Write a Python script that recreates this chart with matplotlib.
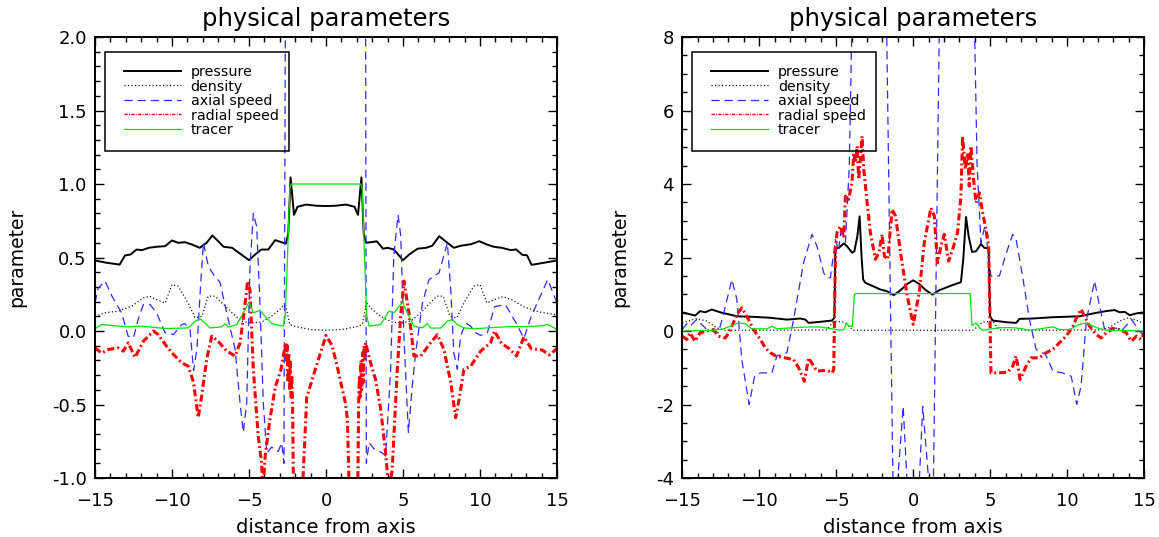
import matplotlib
matplotlib.use('Agg')
import matplotlib.pyplot as plt
from matplotlib.ticker import MultipleLocator, FormatStrFormatter
from matplotlib.patches import Rectangle

plt.rcParams['font.family'] = ['DejaVu Sans']
plt.rcParams['axes.unicode_minus'] = True

# ---------------- data : left panel ----------------
L_x_pressure = [-15, -14.3, -13.4, -13.05, -12.7, -12.3, -11.95, -11.5, -11.0, -10.45,
                -10.0, -9.6, -9.15, -8.7, -8.2, -7.75, -7.38, -7.0, -6.65, -6.1,
                -5.5, -5.0, -4.6, -4.2, -3.75, -3.3, -2.9, -2.6, -2.45, -2.3,
                -2.2, -2.08, -1.85, -1.3, -0.6, 0.0, 0.6, 1.3, 1.85, 2.08,
                2.2, 2.3, 2.45, 2.6, 2.9, 3.3, 3.7, 4.0, 4.4, 5.0,
                5.4, 5.95, 6.5, 6.9, 7.35, 7.75, 8.3, 8.75, 9.4, 9.95,
                10.4, 10.9, 11.45, 12.0, 12.35, 12.75, 13.05, 13.35, 14.2, 15.0]
L_y_pressure = [0.48, 0.465, 0.452, 0.514, 0.52, 0.554, 0.55, 0.566, 0.573, 0.577,
                0.616, 0.60, 0.604, 0.588, 0.566, 0.60, 0.65, 0.611, 0.573, 0.566,
                0.52, 0.482, 0.52, 0.554, 0.554, 0.618, 0.604, 0.595, 0.66, 1.045,
                0.93, 0.79, 0.845, 0.86, 0.852, 0.85, 0.852, 0.86, 0.845, 0.79,
                0.93, 1.045, 0.66, 0.60, 0.604, 0.61, 0.56, 0.566, 0.555, 0.482,
                0.52, 0.56, 0.566, 0.58, 0.645, 0.611, 0.566, 0.58, 0.59, 0.611,
                0.59, 0.573, 0.565, 0.55, 0.555, 0.518, 0.515, 0.45, 0.465, 0.48]

L_x_density = [-15, -14.35, -13.5, -12.6, -11.85, -11.45, -11.0, -10.45, -10.0, -9.6,
               -8.95, -8.5, -8.05, -7.65, -7.2, -6.75, -6.1, -5.5, -4.85, -4.2,
               -3.55, -3.0, -2.65, -2.35, -2.0, -1.0, 0.0, 1.0, 2.0, 2.35,
               2.65, 3.0, 3.55, 4.3, 4.9, 5.5, 6.15, 6.75, 7.2, 7.6,
               8.05, 8.5, 8.95, 9.6, 10.0, 10.45, 10.95, 11.5, 12.1, 12.85,
               13.8, 15.0]
L_y_density = [0.10, 0.124, 0.135, 0.17, 0.226, 0.237, 0.214, 0.19, 0.316, 0.305,
               0.19, 0.09, 0.10, 0.237, 0.237, 0.19, 0.124, 0.067, 0.055, 0.06,
               0.10, 0.146, 0.19, 0.044, 0.03, 0.01, 0.005, 0.01, 0.03, 0.044,
               0.19, 0.146, 0.10, 0.06, 0.055, 0.067, 0.124, 0.19, 0.237, 0.237,
               0.10, 0.09, 0.19, 0.305, 0.316, 0.19, 0.214, 0.234, 0.21, 0.165,
               0.13, 0.11]

L_x_axial = [-15, -14.8, -14.35, -13.9, -13.27, -12.85, -12.5, -12.2, -11.86, -11.43,
             -11.0, -10.45, -9.9, -9.37, -9.16, -8.83, -8.6, -8.38, -8.15, -7.96,
             -7.64, -7.31, -6.88, -6.45, -5.9, -5.58, -5.37, -5.15, -4.94, -4.72,
             -4.5, -4.29, -4.07, -3.85, -3.53, -3.1, -2.88, -2.73, -2.6, 0.0,
             2.55, 2.62, 2.8, 3.1, 3.66, 3.87, 4.2, 4.4, 4.68, 4.85,
             5.06, 5.35, 5.6, 5.82, 6.26, 6.69, 7.34, 7.88, 8.1, 8.3,
             8.53, 8.74, 9.07, 9.39, 9.72, 10.04, 10.48, 10.94, 11.65, 12.37,
             12.85, 13.33, 13.8, 14.4, 15.0]
L_y_axial = [0.19, 0.29, 0.34, 0.237, 0.124, -0.035, -0.046, 0.078, 0.18, 0.18,
             0.124, -0.012, -0.024, 0.044, 0.05, 0.01, -0.27, -0.12, 0.30, 0.6,
             0.44, 0.385, 0.33, 0.124, -0.126, -0.49, -0.69, -0.49, 0.42, 0.8,
             0.71, 0.19, -0.49, -0.83, -0.79, -0.82, -0.76, -0.9, 3.5, 3.5,
             3.5, -0.9, -0.76, -0.8, -0.83, -0.85, -0.26, 0.51, 0.79, 0.65,
             -0.035, -0.69, -0.375, -0.15, 0.19, 0.35, 0.396, 0.6, 0.28, -0.15,
             -0.26, -0.035, 0.055, 0.033, -0.012, -0.03, -0.012, 0.165, 0.18, 0.05,
             -0.05, 0.1, 0.21, 0.35, 0.19]

L_x_radial = [-15, -14.57, -14.13, -13.5, -13.16, -12.84, -12.4, -11.86, -11.2, -10.9,
              -10.35, -9.9, -9.37, -8.94, -8.6, -8.3, -8.07, -7.75, -7.42, -7.0,
              -6.45, -5.9, -5.58, -5.3, -5.09, -4.94, -4.72, -4.4, -4.18, -4.1,
              -3.95, -3.64, -3.29, -2.93, -2.62, -2.57, -2.52, -2.47, -2.42, -2.37,
              -2.32, -2.27, -2.22, -2.17, -2.1, -1.8, -1.49, -1.25, -0.78, -0.3,
              0.0, 0.4, 0.78, 1.26, 1.39, 1.49, 1.8, 2.05, 2.12, 2.17,
              2.22, 2.27, 2.32, 2.37, 2.42, 2.47, 2.52, 2.57, 2.62, 2.9,
              3.22, 3.55, 3.87, 4.1, 4.3, 4.63, 4.85, 5.06, 5.39, 5.71,
              6.15, 6.8, 7.23, 7.66, 8.1, 8.42, 8.64, 8.96, 9.39, 10.04,
              10.69, 10.94, 11.4, 11.9, 12.37, 12.85, 13.33, 14.05, 14.5, 15.0]
L_y_radial = [-0.115, -0.15, -0.126, -0.115, -0.137, -0.08, -0.18, -0.07, 0.0, -0.024,
              -0.104, -0.16, -0.216, -0.24, -0.35, -0.59, -0.44, -0.194, -0.035, -0.07,
              -0.137, -0.17, -0.08, 0.146, 0.34, 0.28, -0.26, -0.715, -0.9, -1.1,
              -0.85, -0.6, -0.38, -0.265, -0.08, -0.2, -0.1, -0.35, -0.15, -0.4,
              -0.2, -0.45, -0.3, -0.5, -1.2, -1.6, -1.0, -0.45, -0.29, -0.13,
              -0.03, -0.1, -0.265, -0.49, -0.6, -1.01, -1.6, -1.2, -0.5, -0.3,
              -0.45, -0.2, -0.4, -0.15, -0.35, -0.1, -0.2, -0.08, -0.1, -0.22,
              -0.33, -0.53, -0.83, -1.1, -0.94, -0.26, 0.1, 0.34, 0.12, -0.17,
              -0.17, -0.08, -0.025, -0.126, -0.35, -0.59, -0.466, -0.26, -0.24, -0.137,
              -0.08, 0.0, -0.084, -0.12, -0.17, -0.04, -0.12, -0.13, -0.163, -0.12]

L_x_tracer = [-15, -14.57, -13.9, -12.84, -12.2, -11.3, -10.45, -9.59, -8.94, -8.5,
              -8.18, -7.86, -7.53, -6.77, -6.56, -6.34, -5.8, -5.37, -5.0, -4.72,
              -4.29, -3.96, -3.53, -2.77, -2.65, -2.5, -2.35, -2.25, 2.25, 2.35,
              2.5, 2.65, 2.8, 3.55, 4.09, 4.42, 4.96, 5.39, 5.71, 6.26,
              6.58, 6.8, 7.45, 7.88, 8.2, 8.53, 8.96, 9.6, 10.9, 12.0,
              13.0, 14.0, 14.4, 15.0]
L_y_tracer = [0.015, 0.044, 0.037, 0.028, 0.033, 0.026, 0.017, 0.019, 0.021, 0.067,
              0.083, 0.055, 0.021, 0.028, 0.049, 0.026, 0.044, 0.124, 0.196, 0.124,
              0.14, 0.1, 0.05, 0.033, 0.1, 0.5, 0.97, 1.0, 1.0, 0.97,
              0.5, 0.1, 0.033, 0.044, 0.135, 0.124, 0.196, 0.1, 0.033, 0.021,
              0.05, 0.02, 0.02, 0.067, 0.078, 0.044, 0.021, 0.015, 0.024, 0.03,
              0.03, 0.035, 0.045, 0.01]

# ---------------- data : right panel ----------------
R_x_pressure = [-15, -14.16, -13.84, -13.5, -13.08, -12.54, -11.45, -10.37, -9.28, -8.2,
                -7.33, -7.0, -6.79, -6.03, -5.27, -5.12, -5.05, -4.84, -4.51, -4.3,
                -3.97, -3.82, -3.62, -3.48, -3.35, -3.25, -3.1, -2.13, -1.69, -1.26,
                -0.82, -0.39, 0.0, 0.39, 0.82, 1.26, 1.69, 2.56, 3.1, 3.25,
                3.43, 3.6, 3.82, 4.08, 4.4, 4.62, 4.9, 4.99, 5.16, 6.03,
                6.68, 6.9, 7.77, 9.07, 10.8, 11.9, 12.5, 13.08, 13.4, 13.73,
                14.06, 14.5, 15.0]
R_y_pressure = [0.51, 0.42, 0.54, 0.51, 0.585, 0.51, 0.40, 0.385, 0.36, 0.31,
                0.34, 0.31, 0.22, 0.25, 0.285, 0.36, 2.26, 2.26, 2.38, 2.31,
                2.13, 2.17, 2.6, 3.12, 2.0, 1.4, 1.31, 1.13, 1.08, 0.975,
                1.11, 1.28, 1.38, 1.28, 1.11, 0.99, 1.11, 1.25, 1.33, 1.95,
                3.1, 2.58, 2.15, 2.17, 2.37, 2.26, 2.26, 0.40, 0.285, 0.24,
                0.22, 0.33, 0.34, 0.375, 0.40, 0.495, 0.54, 0.57, 0.51, 0.52,
                0.43, 0.48, 0.51]

R_x_density = [-15, -14.06, -13.4, -12.75, -12.3, -9.0, -5.6, -5.16, -4.5, -4.08,
               -3.86, 0.0, 3.86, 4.08, 4.5, 5.16, 5.6, 9.0, 12.3, 12.75,
               13.4, 13.95, 14.4, 15.0]
R_y_density = [0.22, 0.34, 0.27, 0.086, 0.02, 0.02, 0.03, 0.27, 0.24, 0.086,
               0.02, 0.02, 0.02, 0.086, 0.24, 0.27, 0.03, 0.02, 0.03, 0.1,
               0.27, 0.36, 0.31, 0.2]

R_x_axial = [-15, -14.7, -14.5, -14.06, -13.4, -12.65, -12.3, -11.78, -11.45, -11.13,
             -10.65, -10.3, -9.93, -9.18, -8.85, -8.2, -7.77, -7.12, -6.57, -6.25,
             -5.81, -5.6, -5.38, -5.05, -4.85, -4.65, -4.4, -4.15, -3.95, -1.75,
             -1.3, -1.05, -0.65, -0.35, 0.0, 0.35, 0.62, 1.05, 1.3, 1.72,
             3.95, 4.15, 4.4, 4.65, 4.85, 5.05, 5.6, 6.03, 6.46, 6.68,
             7.1, 7.55, 7.98, 8.6, 9.07, 9.7, 10.26, 10.62, 10.9, 11.25,
             11.78, 12.1, 12.43, 12.97, 13.6, 14.2, 14.6, 15.0]
R_y_axial = [0.04, 0.2, 0.13, 0.31, 0.04, -0.05, 0.49, 1.4, 0.86, -0.78,
             -2.0, -1.23, -1.14, -1.14, -0.68, -0.59, 0.31, 1.86, 2.63, 2.31,
             1.58, 1.45, 1.45, 2.49, 2.2, 2.85, 2.4, 4.5, 9.0, 9.0,
             -4.5, -4.3, -2.05, -4.5, -5.0, -4.5, -2.05, -4.3, -4.5, 9.0,
             9.0, 4.5, 2.4, 2.85, 2.2, 1.49, 1.5, 2.1, 2.63, 2.5,
             1.5, 0.31, -0.5, -0.64, -1.09, -1.14, -1.23, -2.0, -1.5, 0.31,
             1.36, 0.68, 0.04, 0.09, 0.04, 0.31, 0.04, -0.14]

R_x_radial = [-15, -14.7, -14.5, -14.16, -13.84, -13.4, -12.97, -12.65, -12.2, -11.9,
              -11.45, -11.13, -10.8, -10.37, -9.93, -9.6, -9.28, -8.85, -8.63, -8.2,
              -7.77, -7.44, -7.07, -6.79, -6.46, -6.25, -5.6, -5.27, -5.16, -5.05,
              -4.95, -4.73, -4.51, -4.4, -4.19, -3.97, -3.86, -3.75, -3.64, -3.54,
              -3.43, -3.32, -3.21, -2.99, -2.78, -2.45, -2.23, -2.02, -1.87, -1.65,
              -1.37, -1.15, -0.82, -0.39, 0.0, 0.39, 0.72, 1.15, 1.37, 1.58,
              1.8, 2.02, 2.3, 2.56, 2.88, 3.1, 3.21, 3.38, 3.54, 3.64,
              3.75, 3.9, 4.08, 4.3, 4.51, 4.73, 4.9, 5.05, 5.49, 6.14,
              6.46, 6.68, 6.94, 7.33, 7.66, 8.2, 8.63, 9.07, 9.5, 9.93,
              10.37, 10.7, 10.9, 11.13, 11.45, 11.9, 12.2, 12.54, 12.97, 13.4,
              13.84, 14.16, 14.5, 14.8, 15.0]
R_y_radial = [-0.14, -0.23, -0.05, -0.28, -0.05, 0.0, 0.04, -0.14, -0.19, 0.0,
              0.45, 0.63, 0.4, 0.04, -0.23, -0.46, -0.59, -0.7, -0.7, -0.74,
              -0.78, -1.0, -1.37, -0.73, -0.96, -1.09, -1.07, -1.14, -1.05, 2.13,
              2.67, 2.85, 2.54, 3.67, 3.58, 4.08, 4.85, 4.58, 5.03, 4.12,
              4.67, 5.3, 4.4, 3.49, 2.67, 1.95, 2.13, 2.63, 2.04, 1.95,
              3.31, 3.13, 2.13, 0.95, 0.18, 1.04, 2.4, 3.35, 3.13, 1.85,
              2.31, 2.63, 1.9, 2.22, 2.67, 3.67, 5.3, 4.4, 4.85, 3.94,
              5.03, 4.2, 3.49, 3.76, 3.22, 2.76, 2.31, -1.14, -1.14, -1.12,
              -0.96, -0.68, -1.32, -0.96, -0.73, -0.73, -0.59, -0.5, -0.32, -0.14,
              0.13, 0.45, 0.59, 0.4, 0.13, -0.1, -0.19, -0.05, 0.06, 0.04,
              -0.05, -0.28, -0.14, -0.23, -0.05]

R_x_tracer = [-15, -12.97, -12.3, -11.9, -11.35, -10.9, -10.48, -9.5, -9.18, -8.85,
              -7.77, -6.9, -6.03, -4.73, -4.5, -4.34, -4.19, -3.95, -3.82, -3.72,
              3.7, 3.82, 4.08, 4.3, 4.51, 5.6, 6.46, 7.1, 7.55, 9.07,
              9.5, 10.15, 10.8, 11.25, 11.9, 12.54, 15.0]
R_y_tracer = [0.0, 0.02, 0.06, 0.13, 0.22, 0.2, 0.06, 0.06, 0.13, 0.06,
              0.09, 0.11, 0.11, 0.02, 0.04, 0.22, 0.13, 0.13, 0.99, 1.02,
              1.02, 0.15, 0.22, 0.09, 0.02, 0.09, 0.09, 0.06, 0.02, 0.11,
              0.04, 0.04, 0.18, 0.22, 0.09, 0.02, 0.0]

labels = ['pressure', 'density', 'axial speed', 'radial speed', 'tracer']
title_text = 'physical parameters'
xlabel_text = 'distance from axis'
ylabel_text = 'parameter'

styles = {
    'pressure': dict(color='black', lw=1.4, ls='-'),
    'density': dict(color='black', lw=0.9, ls=(0, (0.9, 1.9))),
    'axial speed': dict(color='#2b2bff', lw=0.9, ls=(0, (6.5, 4.0))),
    'radial speed': dict(color='#ff0000', lw=2.2, ls=(0, (2.3, 1.0, 0.6, 1.0))),
    'tracer': dict(color='#00e600', lw=0.9, ls='-'),
}

W, H = 1159, 537
fig = plt.figure(figsize=(W / 100, H / 100), dpi=100)
axL = fig.add_axes([95 / W, 59 / H, 462 / W, 441 / H])
axR = fig.add_axes([682.2 / W, 59 / H, 462 / W, 441 / H])

panels = [
    (axL, [(L_x_pressure, L_y_pressure), (L_x_density, L_y_density), (L_x_axial, L_y_axial),
           (L_x_radial, L_y_radial), (L_x_tracer, L_y_tracer)],
     (-1.0, 2.0), 0.5, 0.1, '%.1f', -0.149),
    (axR, [(R_x_pressure, R_y_pressure), (R_x_density, R_y_density), (R_x_axial, R_y_axial),
           (R_x_radial, R_y_radial), (R_x_tracer, R_y_tracer)],
     (-4, 8), 2, 0.5, '%d', -0.114),
]

for ax, series, ylim, ymaj, ymin, yfmt, ylab_x in panels:
    for lab, (xs, ys) in zip(labels, series):
        st = styles[lab]
        ax.plot(xs, ys, color=st['color'], lw=st['lw'], linestyle=st['ls'], label=lab,
                solid_joinstyle='round')
    ax.set_xlim(-15, 15)
    ax.set_ylim(*ylim)
    ax.xaxis.set_major_locator(MultipleLocator(5))
    ax.xaxis.set_minor_locator(MultipleLocator(1))
    ax.yaxis.set_major_locator(MultipleLocator(ymaj))
    ax.yaxis.set_minor_locator(MultipleLocator(ymin))
    ax.yaxis.set_major_formatter(FormatStrFormatter(yfmt))
    ax.tick_params(which='both', direction='in', top=True, right=True, width=1.0)
    ax.tick_params(which='major', length=6.5, labelsize=13)
    ax.tick_params(axis='x', which='major', pad=10)
    ax.tick_params(axis='y', which='major', pad=6)
    ax.tick_params(which='minor', length=3.3)
    for sp in ax.spines.values():
        sp.set_linewidth(1.4)
    ax.set_title(title_text, fontsize=17.5, pad=8)
    ax.set_xlabel(xlabel_text, fontsize=14, labelpad=6)
    ax.set_ylabel(ylabel_text, fontsize=13.5)
    ax.yaxis.set_label_coords(ylab_x, 0.5)

    leg = ax.legend(loc='upper left', bbox_to_anchor=(0.063, 0.9365), frameon=False,
                    fontsize=10.3, handlelength=3.95, handletextpad=0.7,
                    labelspacing=0.035, borderpad=0, borderaxespad=0)
    leg.legend_handles[3].set_linewidth(1.0)
    ax.add_patch(Rectangle((0.0212, 0.7415), 0.3985, 0.2245, transform=ax.transAxes,
                           fill=False, edgecolor='black', lw=1.1, zorder=5))

fig.savefig('out.png', dpi=100)
